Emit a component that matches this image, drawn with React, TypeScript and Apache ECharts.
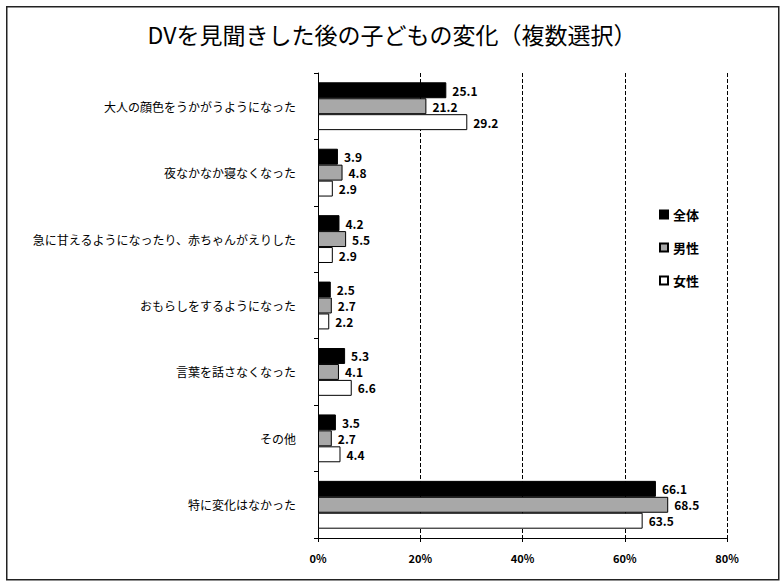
import React, { useEffect, useRef } from "react";
import * as echarts from "echarts";

const categories = [
  "大人の顔色をうかがうようになった",
  "夜なかなか寝なくなった",
  "急に甘えるようになったり、赤ちゃんがえりした",
  "おもらしをするようになった",
  "言葉を話さなくなった",
  "その他",
  "特に変化はなかった",
];
const seriesNames = ["全体", "男性", "女性"];
const allValues = [25.1, 3.9, 4.2, 2.5, 5.3, 3.5, 66.1];
const maleValues = [21.2, 4.8, 5.5, 2.7, 4.1, 2.7, 68.5];
const femaleValues = [29.2, 2.9, 2.9, 2.2, 6.6, 4.4, 63.5];
const xTicks = [0, 20, 40, 60, 80];

const FONT = "'Noto Sans CJK JP', 'Noto Sans', sans-serif";

export default function App() {
  const ref = useRef<HTMLDivElement>(null);
  useEffect(() => {
    if (!ref.current) return;
    const chart = echarts.init(ref.current, undefined, { renderer: "svg" });
    const label = {
      show: true,
      position: "right" as const,
      distance: 6,
      color: "#000",
      fontWeight: "bold" as const,
      fontSize: 12,
      lineHeight: 13,
      fontFamily: FONT,
      formatter: (p: any) => Number(p.value).toFixed(1),
    };
    const colors = ["#000000", "#a8a8a8", "#ffffff"];
    const data = [allValues, maleValues, femaleValues];
    chart.setOption({
      animation: false,
      backgroundColor: "#fff",
      textStyle: { fontFamily: FONT },
      title: {
        text: "DVを見聞きした後の子どもの変化（複数選択）",
        left: "center",
        top: 17,
        textStyle: { fontSize: 23, fontWeight: "normal", color: "#000", fontFamily: FONT },
      },
      legend: {
        orient: "vertical",
        left: 654,
        top: 203,
        itemGap: 20,
        itemWidth: 8,
        itemHeight: 8,
        icon: "rect",
        data: seriesNames,
        textStyle: { fontSize: 13, fontWeight: "bold", color: "#000", fontFamily: FONT },
      },
      graphic: {
        elements: [
          {
            type: "rect",
            left: 6,
            top: 6,
            z: 100,
            shape: { x: 0, y: 0, width: 772, height: 573 },
            style: { fill: "transparent", stroke: "#222", lineWidth: 1.5 },
            silent: true,
          },
        ],
      },
      grid: { left: 318, right: 57, top: 73, bottom: 48, containLabel: false },
      xAxis: {
        type: "value",
        min: xTicks[0],
        max: xTicks[xTicks.length - 1],
        interval: 20,
        axisLabel: {
          formatter: "{value}%",
          color: "#000",
          fontWeight: "bold",
          fontSize: 11,
          margin: 14,
          fontFamily: FONT,
        },
        axisLine: { show: true, lineStyle: { color: "#000", width: 1 } },
        axisTick: { show: true, length: 4, lineStyle: { color: "#000" } },
        splitLine: { show: true, lineStyle: { color: "#000", type: "dashed", width: 1 } },
      },
      yAxis: {
        type: "category",
        data: categories,
        inverse: true,
        axisLine: { show: true, lineStyle: { color: "#000", width: 1 } },
        axisTick: { show: true, length: 4, lineStyle: { color: "#000" } },
        axisLabel: { color: "#000", fontSize: 12, margin: 22, fontFamily: FONT },
      },
      series: seriesNames.map((name, i) => ({
        name,
        type: "bar",
        data: data[i],
        barGap: "0%",
        barCategoryGap: "28%",
        itemStyle: {
          color: colors[i],
          borderColor: "#000",
          borderWidth: 1,
        },
        label,
      })),
    });
    return () => chart.dispose();
  }, []);
  return (
    <div
      ref={ref}
      style={{ position: "absolute", left: 0, top: 0, width: 784, height: 586 }}
    />
  );
}
